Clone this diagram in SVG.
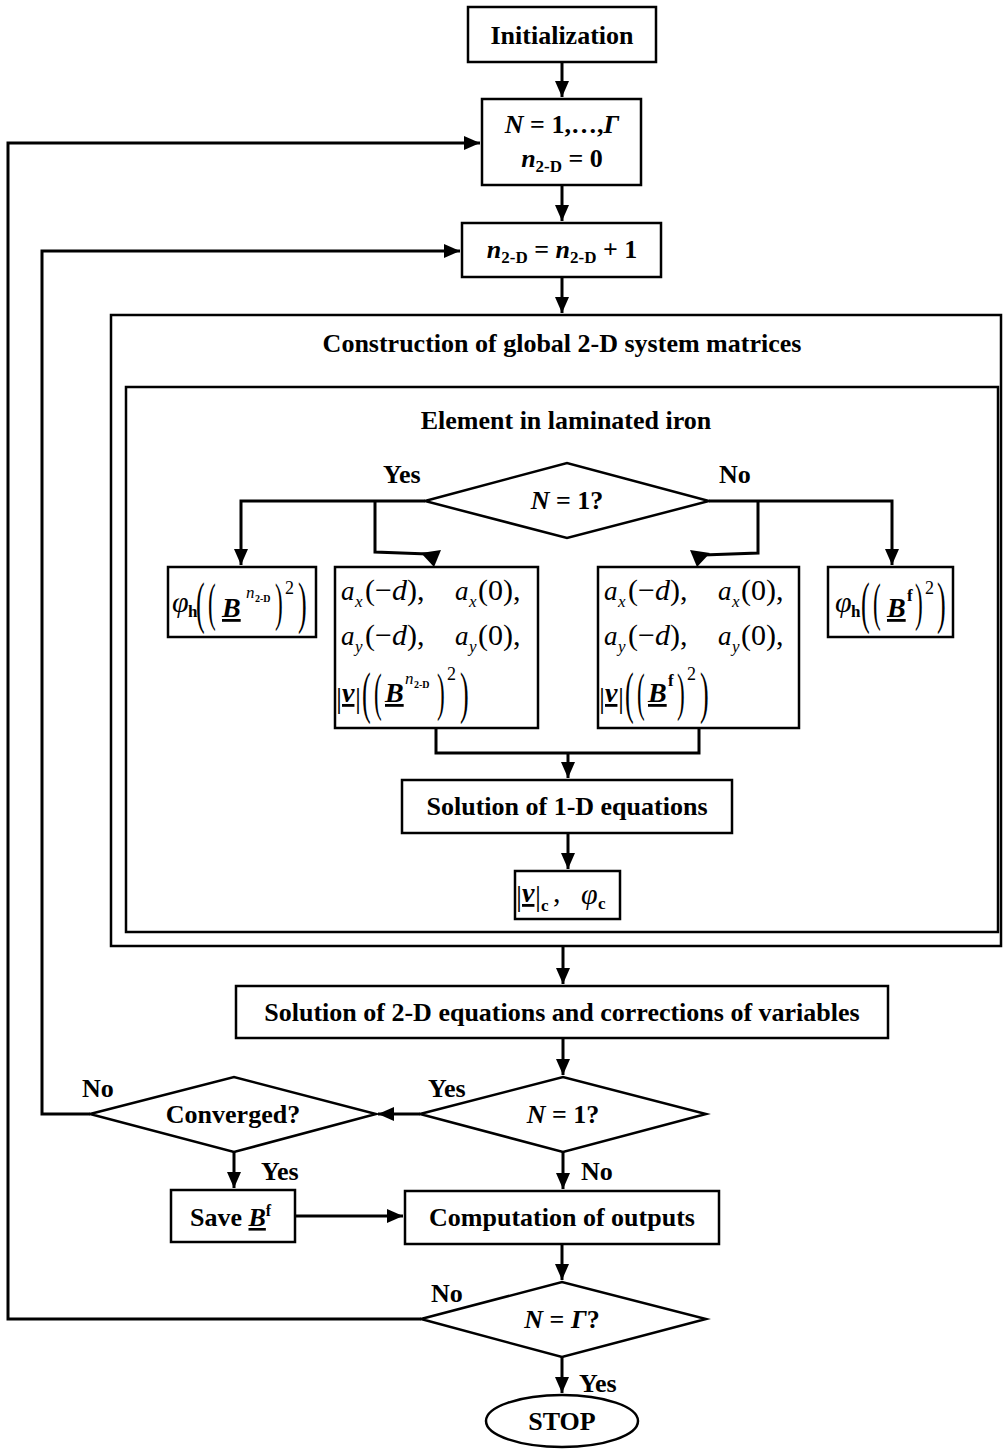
<svg xmlns="http://www.w3.org/2000/svg" width="1003" height="1450" viewBox="0 0 1003 1450">
<defs>
<style>
.bx{fill:#fff;stroke:#000;stroke-width:2.5}
.fr{fill:none;stroke:#000;stroke-width:2.5}
.cn{fill:none;stroke:#000;stroke-width:3}
.t{font-family:"Liberation Serif",serif;font-weight:bold;font-size:26px;text-anchor:middle;fill:#000}
.l{font-family:"Liberation Serif",serif;font-weight:bold;font-size:26px;fill:#000}
.m{font-family:"Liberation Serif",serif;font-style:italic;font-size:30px;fill:#000}
.a{font-family:"Liberation Serif",serif;font-style:italic;font-size:27px;fill:#000}
.r{font-family:"Liberation Serif",serif;font-style:normal;font-size:30px;fill:#000}
.bi{font-family:"Liberation Serif",serif;font-style:italic;font-weight:bold;font-size:28px;fill:#000;text-decoration:underline}
.sb{font-family:"Liberation Serif",serif;font-weight:bold;font-size:17px;fill:#000}
.si{font-family:"Liberation Serif",serif;font-style:italic;font-size:17px;fill:#000}
.sp{font-family:"Liberation Serif",serif;font-size:18px;fill:#000}
.n2{font-family:"Liberation Serif",serif;font-weight:bold;font-size:10px;fill:#000}
.pb{font-family:"Liberation Serif",serif;font-size:58px;fill:#000}
</style>
<marker id="ah" markerUnits="userSpaceOnUse" markerWidth="16" markerHeight="14" refX="16" refY="7" orient="auto">
<path d="M0,0 L16,7 L0,14 z" fill="#000"/>
</marker>
</defs>
<rect width="1003" height="1450" fill="#fff"/>

<g id="construction">
<rect class="fr" x="111" y="315" width="890" height="631"/>
<text class="t" x="562" y="352">Construction of global 2-D system matrices</text>
</g>
<g id="element">
<rect class="fr" x="126" y="387" width="872" height="545"/>
<text class="t" x="566" y="429">Element in laminated iron</text>
</g>

<g id="connectors">
<path class="cn" d="M562,62 V97" marker-end="url(#ah)"/>
<path class="cn" d="M562,185 V221" marker-end="url(#ah)"/>
<path class="cn" d="M562,277 V313" marker-end="url(#ah)"/>
<path class="cn" d="M421,1319 H8 V143 H480" marker-end="url(#ah)"/>
<path class="cn" d="M90,1114 H42 V251 H460" marker-end="url(#ah)"/>
<path class="cn" d="M425,501 H241 V565" marker-end="url(#ah)"/>
<path class="cn" d="M375,501 V552 L428,554"/>
<polygon points="421,553 441,550 434,567" fill="#000"/>
<path class="cn" d="M709,501 H892 V565" marker-end="url(#ah)"/>
<path class="cn" d="M758,501 V553 L703,555"/>
<polygon points="710,553 690,550 697,567" fill="#000"/>
<path class="cn" d="M436,728 V753 H699 V728"/>
<path class="cn" d="M568,753 V778" marker-end="url(#ah)"/>
<path class="cn" d="M568,833 V869" marker-end="url(#ah)"/>
<path class="cn" d="M563,946 V984" marker-end="url(#ah)"/>
<path class="cn" d="M563,1038 V1075" marker-end="url(#ah)"/>
<path class="cn" d="M420,1114 H378" marker-end="url(#ah)"/>
<path class="cn" d="M563,1152 V1189" marker-end="url(#ah)"/>
<path class="cn" d="M234,1152 V1188" marker-end="url(#ah)"/>
<path class="cn" d="M295,1216 H403" marker-end="url(#ah)"/>
<path class="cn" d="M562,1244 V1280" marker-end="url(#ah)"/>
<path class="cn" d="M562,1357 V1393" marker-end="url(#ah)"/>
<text class="l" x="383" y="483">Yes</text>
<text class="l" x="719" y="483">No</text>
<text class="l" x="82" y="1097">No</text>
<text class="l" x="428" y="1097">Yes</text>
<text class="l" x="261" y="1180">Yes</text>
<text class="l" x="581" y="1180">No</text>
<text class="l" x="431" y="1302">No</text>
<text class="l" x="579" y="1392">Yes</text>
</g>

<g id="init">
<rect class="bx" x="468" y="7" width="188" height="55"/>
<text class="t" x="562" y="44">Initialization</text>
</g>

<g id="loopN">
<rect class="bx" x="482" y="99" width="159" height="86"/>
<text class="t" x="562" y="133"><tspan font-style="italic">N</tspan> = 1,…,<tspan font-style="italic">Γ</tspan></text>
<text class="t" x="562" y="167"><tspan font-style="italic">n</tspan><tspan font-size="17" dy="5">2-D</tspan><tspan dy="-5"> = 0</tspan></text>
</g>

<g id="incr">
<rect class="bx" x="462" y="223" width="199" height="54"/>
<text class="t" x="562" y="258"><tspan font-style="italic">n</tspan><tspan font-size="17" dy="5">2-D</tspan><tspan dy="-5"> = </tspan><tspan font-style="italic">n</tspan><tspan font-size="17" dy="5">2-D</tspan><tspan dy="-5"> + 1</tspan></text>
</g>

<g id="dec1">
<polygon class="bx" points="425,501 567,463 709,501 567,538"/>
<text class="t" x="567" y="509"><tspan font-style="italic">N</tspan> = 1?</text>
</g>

<g id="phiL">
<rect class="bx" x="168" y="567" width="148" height="70"/>
<text class="m" x="172" y="612">φ</text>
<text class="sb" x="188" y="617">h</text>
<text class="pb" transform="translate(196,622) scale(0.45,1)">(</text>
<text class="pb" transform="translate(208,620) scale(0.4,0.92)">(</text>
<text class="bi" x="222" y="617">B</text>
<text class="si" x="246" y="598">n</text>
<text class="n2" x="255" y="602">2-D</text>
<text class="pb" transform="translate(275,620) scale(0.4,0.92)">)</text>
<text class="sp" x="285" y="594">2</text>
<text class="pb" transform="translate(298,622) scale(0.45,1)">)</text>
</g>

<g id="varsL">
<rect class="bx" x="335" y="567" width="203" height="161"/>
<text class="a" x="341" y="600">a</text>
<text class="si" x="355" y="607">x</text>
<text class="r" x="365" y="600">(−<tspan font-style="italic">d</tspan>),</text>
<text class="a" x="455" y="600">a</text>
<text class="si" x="469" y="607">x</text>
<text class="r" x="478" y="600">(0),</text>
<text class="a" x="341" y="645">a</text>
<text class="si" x="355" y="652">y</text>
<text class="r" x="365" y="645">(−<tspan font-style="italic">d</tspan>),</text>
<text class="a" x="455" y="645">a</text>
<text class="si" x="469" y="652">y</text>
<text class="r" x="478" y="645">(0),</text>
<text class="r" x="336" y="708">|</text>
<text class="bi" x="342" y="702">ν</text>
<text class="r" x="355" y="708">|</text>
<text class="pb" transform="translate(362,712) scale(0.45,1)">(</text>
<text class="pb" transform="translate(374,710) scale(0.4,0.92)">(</text>
<text class="bi" x="385" y="702">B</text>
<text class="si" x="405" y="684">n</text>
<text class="n2" x="414" y="688">2-D</text>
<text class="pb" transform="translate(437,710) scale(0.4,0.92)">)</text>
<text class="sp" x="447" y="680">2</text>
<text class="pb" transform="translate(460,712) scale(0.45,1)">)</text>
</g>

<g id="varsR">
<rect class="bx" x="598" y="567" width="201" height="161"/>
<text class="a" x="604" y="600">a</text>
<text class="si" x="618" y="607">x</text>
<text class="r" x="628" y="600">(−<tspan font-style="italic">d</tspan>),</text>
<text class="a" x="718" y="600">a</text>
<text class="si" x="732" y="607">x</text>
<text class="r" x="741" y="600">(0),</text>
<text class="a" x="604" y="645">a</text>
<text class="si" x="618" y="652">y</text>
<text class="r" x="628" y="645">(−<tspan font-style="italic">d</tspan>),</text>
<text class="a" x="718" y="645">a</text>
<text class="si" x="732" y="652">y</text>
<text class="r" x="741" y="645">(0),</text>
<text class="r" x="599" y="708">|</text>
<text class="bi" x="605" y="702">ν</text>
<text class="r" x="618" y="708">|</text>
<text class="pb" transform="translate(625,712) scale(0.45,1)">(</text>
<text class="pb" transform="translate(637,710) scale(0.4,0.92)">(</text>
<text class="bi" x="648" y="702">B</text>
<text class="sb" x="668" y="686">f</text>
<text class="pb" transform="translate(677,710) scale(0.4,0.92)">)</text>
<text class="sp" x="687" y="680">2</text>
<text class="pb" transform="translate(700,712) scale(0.45,1)">)</text>
</g>

<g id="phiR">
<rect class="bx" x="828" y="567" width="125" height="70"/>
<text class="m" x="835" y="612">φ</text>
<text class="sb" x="851" y="617">h</text>
<text class="pb" transform="translate(861,622) scale(0.45,1)">(</text>
<text class="pb" transform="translate(873,620) scale(0.4,0.92)">(</text>
<text class="bi" x="887" y="617">B</text>
<text class="sb" x="907" y="601">f</text>
<text class="pb" transform="translate(915,620) scale(0.4,0.92)">)</text>
<text class="sp" x="925" y="594">2</text>
<text class="pb" transform="translate(937,622) scale(0.45,1)">)</text>
</g>

<g id="sol1d">
<rect class="bx" x="402" y="780" width="330" height="53"/>
<text class="t" x="567" y="815">Solution of 1-D equations</text>
</g>

<g id="nuc">
<rect class="bx" x="515" y="871" width="105" height="48"/>
<text class="r" x="516" y="906">|</text>
<text class="bi" x="522" y="902">ν</text>
<text class="r" x="535" y="906">|</text>
<text class="sb" x="541" y="911">c</text>
<text class="r" x="553" y="902">,</text>
<text class="m" x="581" y="904">φ</text>
<text class="sb" x="598" y="909">c</text>
</g>

<g id="sol2d">
<rect class="bx" x="236" y="986" width="652" height="52"/>
<text class="t" x="562" y="1021">Solution of 2-D equations and corrections of variables</text>
</g>

<g id="dec2">
<polygon class="bx" points="420,1114 563,1077 706,1114 563,1152"/>
<text class="t" x="563" y="1123"><tspan font-style="italic">N</tspan> = 1?</text>
</g>

<g id="conv">
<polygon class="bx" points="90,1114 234,1077 376,1114 234,1152"/>
<text class="t" x="233" y="1123">Converged?</text>
</g>

<g id="save">
<rect class="bx" x="171" y="1190" width="124" height="52"/>
<text class="l" x="190" y="1226">Save <tspan font-style="italic" text-decoration="underline">B</tspan><tspan font-size="16" dy="-10">f</tspan></text>
</g>

<g id="outputs">
<rect class="bx" x="405" y="1191" width="314" height="53"/>
<text class="t" x="562" y="1226">Computation of outputs</text>
</g>

<g id="dec3">
<polygon class="bx" points="421,1319 562,1282 706,1319 562,1357"/>
<text class="t" x="562" y="1328"><tspan font-style="italic">N</tspan> = <tspan font-style="italic">Γ</tspan>?</text>
</g>

<g id="stop">
<ellipse class="bx" cx="562" cy="1421" rx="76" ry="26"/>
<text class="t" x="562" y="1430">STOP</text>
</g>
</svg>
